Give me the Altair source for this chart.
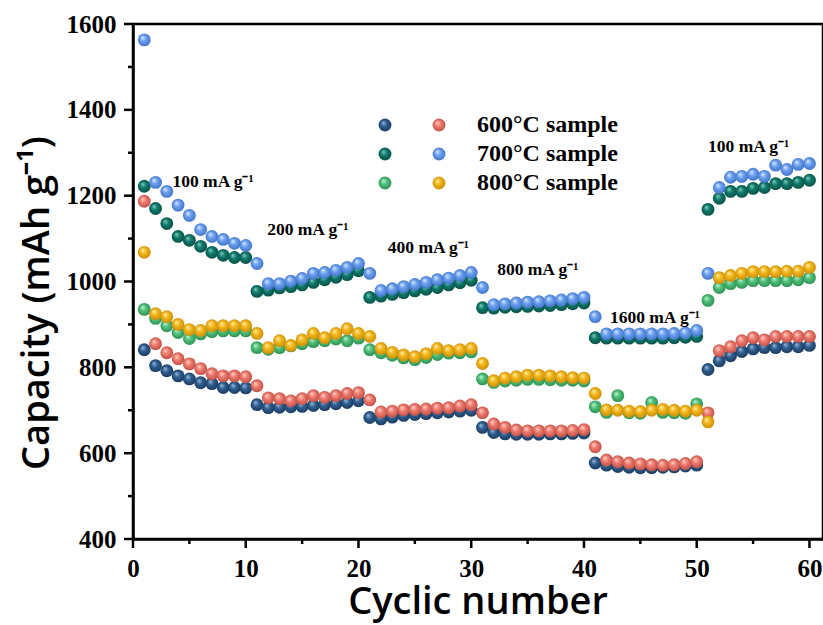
import altair as alt
import pandas as pd

cycles = list(range(1, 61))

s600_dark = [841, 804, 792, 780, 773, 764, 762, 753, 753, 752,
             713, 706, 707, 708, 709, 711, 713, 715, 718, 722,
             683, 680, 684, 688, 690, 692, 694, 696, 698, 700,
             660, 648, 645, 644, 644, 644, 645, 645, 646, 647,
             577, 572, 569, 567, 566, 566, 567, 568, 570, 572,
             795, 815, 827, 837, 843, 846, 846, 848, 848, 851]
s600_light = [1187, 855, 834, 820, 808, 797, 785, 780, 780, 778,
              757, 729, 727, 722, 727, 734, 730, 734, 739, 741,
              724, 696, 698, 701, 702, 703, 705, 706, 710, 713,
              694, 668, 660, 654, 652, 652, 652, 652, 653, 655,
              615, 584, 580, 577, 575, 573, 572, 573, 576, 580,
              694, 839, 848, 862, 869, 864, 872, 872, 872, 872]
s700_dark = [1222, 1170, 1135, 1105, 1096, 1082, 1068, 1061, 1056, 1056,
             977, 980, 985, 988, 992, 998, 1004, 1010, 1016, 1025,
             963, 966, 970, 974, 978, 982, 986, 992, 997, 1003,
             939, 938, 940, 941, 942, 943, 944, 946, 948, 950,
             869, 868, 868, 868, 868, 868, 868, 869, 870, 872,
             1168, 1194, 1210, 1210, 1217, 1219, 1228, 1228, 1231, 1236]
s700_light = [1563, 1231, 1210, 1178, 1154, 1121, 1105, 1098, 1089, 1084,
              1042, 995, 995, 1001, 1007, 1019, 1021, 1026, 1033, 1042,
              1019, 979, 983, 988, 993, 998, 1004, 1008, 1014, 1021,
              986, 946, 948, 950, 952, 953, 955, 957, 960, 963,
              918, 878, 878, 878, 878, 878, 878, 879, 880, 886,
              1019, 1219, 1243, 1245, 1250, 1245, 1271, 1261, 1273, 1275]
s800_dark = [935, 914, 897, 881, 867, 878, 883, 885, 885, 885,
             846, 842, 846, 850, 855, 860, 862, 866, 862, 868,
             841, 834, 828, 822, 818, 823, 830, 833, 834, 836,
             773, 765, 768, 770, 772, 772, 771, 770, 770, 768,
             708, 695, 734, 694, 693, 718, 695, 694, 693, 715,
             956, 986, 995, 998, 1002, 1002, 1002, 1002, 1004, 1009]
s800_light = [1068, 925, 918, 900, 888, 886, 897, 897, 897, 897,
              879, 846, 862, 851, 864, 879, 869, 879, 890, 879,
              872, 844, 835, 829, 825, 832, 844, 839, 841, 844,
              809, 769, 775, 778, 782, 782, 780, 778, 776, 775,
              739, 701, 700, 698, 697, 700, 702, 700, 698, 700,
              673, 1009, 1014, 1019, 1023, 1023, 1023, 1024, 1024, 1033]

series_keys = ["600d", "600l", "700d", "700l", "800d", "800l"]
series_vals = [s600_dark, s600_light, s700_dark, s700_light, s800_dark, s800_light]

# (highlight, base, shadow)
palette = {
    "600d": ("#9dbbe0", "#2f5f90", "#1a3659"),
    "600l": ("#ffd6cf", "#f07b6f", "#b84a40"),
    "700d": ("#86cfc0", "#0f7b6c", "#064a40"),
    "700l": ("#e0ecff", "#6ba0f0", "#3c6ec2"),
    "800d": ("#c8f3d6", "#4fc07a", "#2a8a4e"),
    "800l": ("#fff0b0", "#f3b61c", "#c58a05"),
}

legend_labels = ["600\u00b0C sample", "700\u00b0C sample", "800\u00b0C sample"]
x_title = "Cyclic number"
y_title = "Capacity (mAh g\u207b\u00b9)"

rate_labels = ["100 mA g\u207b\u00b9", "200 mA g\u207b\u00b9", "400 mA g\u207b\u00b9",
               "800 mA g\u207b\u00b9", "1600 mA g\u207b\u00b9", "100 mA g\u207b\u00b9"]
rate_x = [3.5, 11.9, 22.6, 32.3, 42.3, 51.0]
rate_y = [1231, 1119, 1077, 1026, 914, 1313]

x_major = [0, 10, 20, 30, 40, 50, 60]
x_minor = [5, 15, 25, 35, 45, 55]
y_major = [400, 600, 800, 1000, 1200, 1400, 1600]
y_minor = [500, 700, 900, 1100, 1300, 1500]


def grad(key):
    hl, base, sh = palette[key]
    return {"gradient": "radial", "x1": 0.36, "y1": 0.32, "r1": 0.0,
            "x2": 0.5, "y2": 0.5, "r2": 0.56,
            "stops": [{"offset": 0.0, "color": hl},
                      {"offset": 0.42, "color": base},
                      {"offset": 1.0, "color": sh}]}


rows = []
for key, vals in zip(series_keys, series_vals):
    for c, v in zip(cycles, vals):
        rows.append({"cycle": c, "cap": v, "series": key})
df = pd.DataFrame(rows)

W, H = 690, 515
xscale = alt.Scale(domain=[0, 61.2], nice=False, zero=False)
yscale = alt.Scale(domain=[400, 1600], nice=False, zero=False)

xaxis = alt.Axis(values=x_major, format="d", title=None, orient="bottom",
                 ticks=False, labelPadding=17, labelFlush=False, grid=False)
yaxis = alt.Axis(values=y_major, format="d", title=None, orient="left",
                 ticks=False, labelPadding=17, labelFlush=False, grid=False)

layers = []
for i, key in enumerate(series_keys):
    ch = alt.Chart(df).transform_filter(alt.datum.series == key).mark_circle(
        size=165, fill=grad(key), opacity=1
    ).encode(
        x=alt.X("cycle:Q", scale=xscale, axis=xaxis if i == 0 else None),
        y=alt.Y("cap:Q", scale=yscale, axis=yaxis if i == 0 else None),
    )
    layers.append(ch)

# tick marks drawn through the shared scales
tick_w = 2.5
for vals, length in [(x_major, 9), (x_minor, 5)]:
    layers.append(
        alt.Chart(pd.DataFrame({"v": vals})).mark_rule(color="black", strokeWidth=tick_w)
        .encode(x=alt.X("v:Q", scale=xscale, axis=None),
                y=alt.value(H), y2=alt.value(H + length))
    )
for vals, length in [(y_major, 9), (y_minor, 5)]:
    layers.append(
        alt.Chart(pd.DataFrame({"v": vals})).mark_rule(color="black", strokeWidth=tick_w)
        .encode(y=alt.Y("v:Q", scale=yscale, axis=None),
                x=alt.value(0), x2=alt.value(-length))
    )

ann_df = pd.DataFrame({"cycle": rate_x, "cap": rate_y, "t": rate_labels})
ann = alt.Chart(ann_df).mark_text(
    align="left", baseline="middle", font="Liberation Serif",
    fontWeight="bold", fontSize=17.5, color="black"
).encode(x=alt.X("cycle:Q", scale=xscale, axis=None),
         y=alt.Y("cap:Q", scale=yscale, axis=None), text="t:N")
layers.append(ann)

# legend (pixel positions inside plot area)
leg_py = [101, 130, 159]
one = pd.DataFrame({"k": [0]})
for col, keys in [(252, ["600d", "700d", "800d"]), (306, ["600l", "700l", "800l"])]:
    for j, key in enumerate(keys):
        layers.append(
            alt.Chart(one).mark_circle(size=165, fill=grad(key), opacity=1)
            .encode(x=alt.value(col), y=alt.value(leg_py[j]))
        )
for j, lab in enumerate(legend_labels):
    layers.append(
        alt.Chart(pd.DataFrame({"t": [lab]})).mark_text(
            align="left", baseline="middle", font="Liberation Serif",
            fontWeight="bold", fontSize=24, color="black"
        ).encode(x=alt.value(344), y=alt.value(leg_py[j]), text="t:N")
    )

# axis titles as text marks (outside the plot area)
layers.append(
    alt.Chart(pd.DataFrame({"t": [x_title]})).mark_text(
        align="center", baseline="alphabetic", font="Open Sans", fontWeight=600,
        fontSize=38, color="black"
    ).encode(x=alt.value(345), y=alt.value(590), text="t:N")
)
layers.append(
    alt.Chart(pd.DataFrame({"t": [y_title]})).mark_text(
        align="left", baseline="alphabetic", font="Open Sans", fontWeight=600,
        fontSize=38, color="black", angle=270
    ).encode(x=alt.value(-84), y=alt.value(446), text="t:N")
)

chart = alt.layer(*layers).resolve_axis(
    x="independent", y="independent"
).properties(
    width=W, height=H,
    autosize=alt.AutoSizeParams(type="none"),
    padding={"left": 133, "top": 24, "right": 0, "bottom": 86},
).configure_view(
    stroke="black", strokeWidth=2.5
).configure_axis(
    domainColor="black", domainWidth=2.5,
    labelFont="Liberation Serif", labelFontWeight="bold", labelFontSize=25,
    labelColor="black",
)

chart.save("out.html", embed_options={"renderer": "svg", "actions": False})
